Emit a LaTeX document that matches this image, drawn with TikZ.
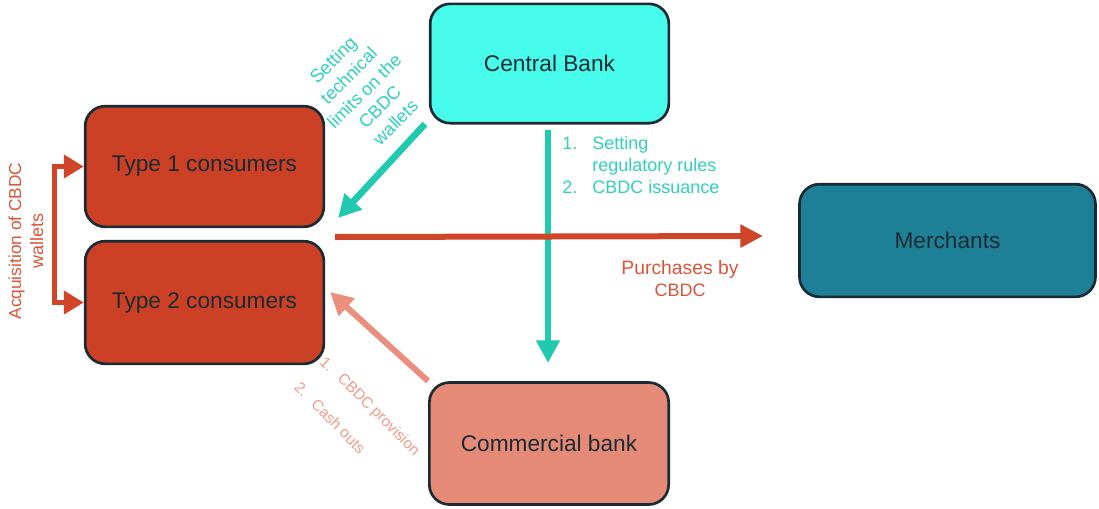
\documentclass[tikz,border=0pt]{standalone}
\usepackage{fontspec}
\setmainfont{Liberation Sans}
\usetikzlibrary{arrows.meta}
\definecolor{cbfill}{HTML}{47FCEB}
\definecolor{tfill}{HTML}{CC4125}
\definecolor{mfill}{HTML}{1E8096}
\definecolor{cofill}{HTML}{E68A78}
\definecolor{bord}{HTML}{1B2B33}
\definecolor{tealA}{HTML}{20C9B0}
\definecolor{tealT}{HTML}{30D0BC}
\definecolor{redA}{HTML}{D04428}
\definecolor{redT}{HTML}{D9553A}
\definecolor{salA}{HTML}{EA8E7E}
\definecolor{salT}{HTML}{EE9A8A}
\tikzset{
  box/.style={draw=bord, line width=2pt, rounded corners=15pt, inner sep=0pt,
    font=\fontsize{17}{20}\selectfont, text=bord},
  tealarrow/.style={draw=tealA, line width=5pt, -{Triangle[length=17pt,width=17pt]}},
  redarrow/.style={draw=redA, line width=4.5pt, -{Triangle[length=17pt,width=16.5pt]}},
  salarrow/.style={draw=salA, line width=4.5pt, -{Triangle[length=17pt,width=17pt]}},
  annot/.style={inner sep=0pt, font=\fontsize{13.5}{16.5}\selectfont},
  small/.style={inner sep=0pt, font=\fontsize{11.5}{14}\selectfont, text=salT},
}
\begin{document}
\begin{tikzpicture}[x=0.75pt,y=-0.75pt]
\useasboundingbox (0,0) rectangle (1099,508);
% boxes
\node[box, fill=cbfill, minimum width=179pt, minimum height=89.5pt] (cb) at (549.5,63.5) {Central Bank};
\node[box, fill=tfill, minimum width=179pt, minimum height=90.5pt] (t1) at (204.5,166.5) {Type 1 consumers};
\node[box, fill=tfill, minimum width=179pt, minimum height=92pt] (t2) at (204.5,302.5) {Type 2 consumers};
\node[box, fill=mfill, minimum width=222pt, minimum height=84.5pt] (me) at (947.5,240.5) {Merchants};
\node[box, fill=cofill, minimum width=179.5pt, minimum height=91.5pt] (co) at (549,443.5) {Commercial bank};
% arrow end points
\coordinate (vs) at (548,130);
\coordinate (ve) at (548,363);
\coordinate (ds) at (425,124);
\coordinate (de) at (338,218);
\coordinate (hs) at (335,237);
\coordinate (he) at (763,236);
\coordinate (ss) at (428,381);
\coordinate (se) at (330,292);
% connectors
\draw[tealarrow] (vs) -- (ve);
\draw[tealarrow] (ds) -- (de);
\draw[redarrow] (hs) -- (he);
\draw[salarrow] (ss) -- (se);
\draw[draw=redA, line width=3.8pt, {Triangle[length=15pt,width=17pt]}-{Triangle[length=15pt,width=17pt]}]
  ([yshift=0pt]t1.west) -- ++(-29,0) |- (t2.west);
% labels
\node[annot, text=tealT, align=center, rotate=45] (l1) at (364,91)
  {\fontsize{13.8}{17.3}\selectfont Setting\\technical\\limits on the\\CBDC\\wallets};
\node[annot, text=tealT, anchor=base west] (n1) at (562,149) {1.};
\node[annot, text=tealT, anchor=base west] (n1a) at (592,149) {Setting};
\node[annot, text=tealT, anchor=base west] (n1b) at (592,171) {regulatory rules};
\node[annot, text=tealT, anchor=base west] (n2) at (562,193) {2.};
\node[annot, text=tealT, anchor=base west] (n2a) at (592,193) {CBDC issuance};
\node[annot, text=redT, align=center, rotate=90] (acq) at (26,241)
  {\fontsize{13}{18}\selectfont Acquisition of CBDC\\wallets};
\node[annot, text=redT, align=center] (pur) at (680,279)
  {\fontsize{14.5}{16.5}\selectfont Purchases by\\CBDC};
\node[small, rotate=-45, anchor=west] (c1) at (322.4,359.2) {1.};
\node[small, rotate=-45, anchor=west] (c1a) at (339.4,376.2) {CBDC provision};
\node[small, rotate=-45, anchor=west] (c2) at (297,384.7) {2.};
\node[small, rotate=-45, anchor=west] (c2a) at (314,401.6) {Cash outs};
\end{tikzpicture}
\end{document}
